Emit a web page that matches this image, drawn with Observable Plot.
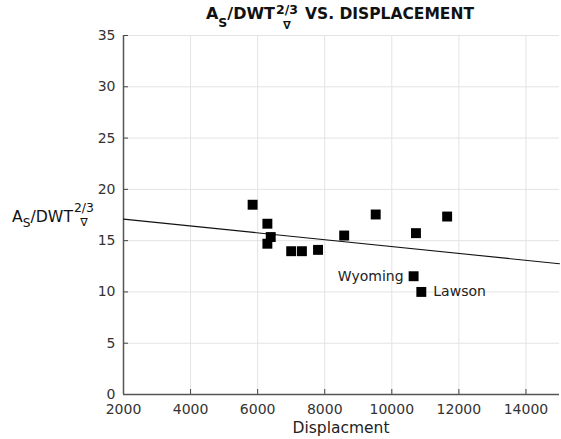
<!DOCTYPE html>
<html><head><meta charset="utf-8">
<script src="https://cdn.jsdelivr.net/npm/d3@7"></script>
<script src="https://cdn.jsdelivr.net/npm/@observablehq/plot@0.6"></script>
<style>body{margin:0;background:#fff} svg{font-family:"DejaVu Sans",sans-serif}</style>
</head><body><div id="chart"></div>
<script>
const displacement = [5850, 6290, 6390, 6290, 7000, 7320, 7800, 8580, 9520, 10720, 11650, 10650, 10880];
const ratio = [18.5, 16.65, 15.35, 14.7, 13.97, 13.97, 14.1, 15.5, 17.55, 15.73, 17.35, 11.53, 10.0];
const shipNames = ["", "", "", "", "", "", "", "", "", "", "", "Wyoming", "Lawson"];
const fitX = [2000, 15000];
const fitY = [17.1, 12.75];
const xTicks = [2000, 4000, 6000, 8000, 10000, 12000, 14000];
const yTicks = [0, 5, 10, 15, 20, 25, 30, 35];

const points = displacement.map((d, i) => ({x: d, y: ratio[i], name: shipNames[i]}));
const fit = fitX.map((d, i) => ({x: d, y: fitY[i]}));

const plot = Plot.plot({
  width: 561, height: 439,
  marginLeft: 123, marginRight: 2, marginTop: 35, marginBottom: 45,
  style: {fontFamily: "DejaVu Sans, sans-serif", background: "#fff"},
  x: {domain: [2000, 15000]},
  y: {domain: [0, 35]},
  marks: [
    Plot.gridX(xTicks, {stroke: "#e3e3e3", strokeOpacity: 1}),
    Plot.gridY(yTicks, {stroke: "#e3e3e3", strokeOpacity: 1}),
    Plot.axisX(xTicks, {tickSize: -5, tickPadding: 15, fontSize: 14, fill: "#333", stroke: "#444", label: null, tickFormat: d => String(d)}),
    Plot.axisY(yTicks, {tickSize: -5, tickPadding: 13, fontSize: 14, fill: "#333", stroke: "#444", label: null}),
    Plot.ruleX([2000], {stroke: "#555", strokeWidth: 1.5}),
    Plot.ruleY([0], {stroke: "#555", strokeWidth: 1.5}),
    Plot.line(fit, {x: "x", y: "y", stroke: "#111", strokeWidth: 1.1}),
    Plot.dot(points, {x: "x", y: "y", symbol: "square", r: 5.6, fill: "black", stroke: null}),
    Plot.text(points.filter(d => d.name === "Wyoming"), {x: "x", y: "y", text: "name", textAnchor: "end", dx: -10, fontSize: 14, fill: "#222"}),
    Plot.text(points.filter(d => d.name === "Lawson"), {x: "x", y: "y", text: "name", textAnchor: "start", dx: 12, fontSize: 14, fill: "#222"})
  ]
});
document.getElementById("chart").appendChild(plot);

const svg = d3.select(plot);
const g = svg.append("g").attr("text-anchor", "start").attr("fill", "#111");

function fitText(sel, target) {
  sel.attr("font-size", 10);
  const w = sel.node().getComputedTextLength();
  const s = 10 * target / w;
  sel.attr("font-size", s);
  return s;
}
function fancyLabel(o) {
  const t = g.append("text").attr("x", o.x).attr("y", o.y).attr("font-weight", o.weight).attr("text-anchor", "start");
  t.append("tspan").text("A");
  const s = t.append("tspan").attr("dy", o.subDy).text("S");
  t.append("tspan").attr("dy", -o.subDy).text("/DWT");
  const build = sz => { t.attr("font-size", sz); s.attr("font-size", sz * 0.78); };
  build(10);
  const w10 = t.node().getComputedTextLength();
  build(10 * o.target / w10);
  const w = t.node().getComputedTextLength();
  const sup = g.append("text").attr("x", o.x + w + 1).attr("y", o.y - o.supDy).attr("font-weight", o.weight).attr("text-anchor", "start").text("2/3");
  const ss = fitText(sup, o.supTarget);
  const sw = sup.node().getComputedTextLength();
  g.append("text").attr("x", o.x + w + 1 + sw / 2).attr("y", o.y + o.nablaDy).attr("font-weight", o.weight)
    .attr("text-anchor", "middle").attr("font-size", ss * 0.9).text("∇");
  if (o.tail) {
    const tl = g.append("text").attr("x", o.tailX).attr("y", o.y).attr("font-weight", o.weight).attr("text-anchor", "start").text(o.tail);
    fitText(tl, o.tailTarget);
  }
}
fancyLabel({x: 206, y: 19, target: 69, weight: "bold", subDy: 8, supDy: 5, supTarget: 22, nablaDy: 10, tail: "VS. DISPLACEMENT", tailX: 305, tailTarget: 169});
fancyLabel({x: 12, y: 222, target: 61, weight: "normal", subDy: 5, supDy: 10, supTarget: 20, nablaDy: 4, tail: null});
const xl = svg.append("text").attr("x", 341).attr("y", 433).attr("text-anchor", "middle").attr("fill", "#222").text("Displacment");
fitText(xl, 97);
</script>
</body></html>
